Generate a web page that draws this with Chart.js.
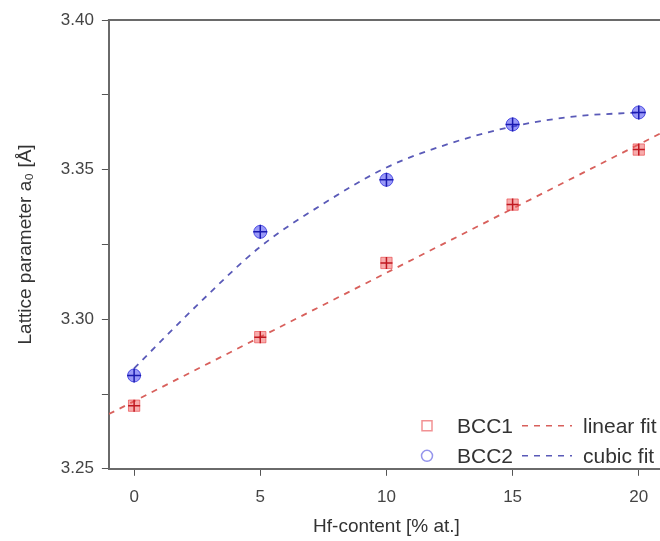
<!DOCTYPE html>
<html>
<head>
<meta charset="utf-8">
<script src="https://cdn.jsdelivr.net/npm/chart.js@4"></script>
<style>
  html, body { margin: 0; padding: 0; background: #fff; overflow: hidden; }
  #wrap { position: absolute; left: 0; top: 0; width: 680px; height: 541px; }
</style>
</head>
<body>
<div id="wrap"><canvas id="c" width="680" height="541"></canvas></div>
<script>
// ---- data ----
const hfContent = [0, 5, 10, 15, 20];
const bcc1 = [3.2711, 3.2940, 3.3188, 3.3383, 3.3567];
const bcc2 = [3.2812, 3.3292, 3.3466, 3.3651, 3.3691];
const linearFitX = [-1, 21];
const linearFitY = [3.2683, 3.3627];
const cubicFitX = [0, 2.5, 5, 7.5, 10, 12.5, 15, 17.5, 20];
const cubicFitY = [3.2836, 3.3047, 3.3242, 3.3386, 3.3507, 3.3587, 3.3644, 3.3678, 3.3691];
const xTicks = [0, 5, 10, 15, 20];
const yTicks = [3.25, 3.275, 3.30, 3.325, 3.35, 3.375, 3.40];
const legendRows = [
  { series: 'BCC1', fit: 'linear fit' },
  { series: 'BCC2', fit: 'cubic fit' }
];

const toXY = (xs, ys) => xs.map((x, i) => ({ x: x, y: ys[i] }));

const FONT = "'Liberation Sans', Arial, sans-serif";

const topBorder = {
  id: 'topBorder',
  afterDraw(chart) {
    const { ctx, chartArea } = chart;
    ctx.save();
    ctx.strokeStyle = '#6a6a6a';
    ctx.lineWidth = 2;
    ctx.beginPath();
    ctx.moveTo(chartArea.left - 1, chartArea.top);
    ctx.lineTo(chartArea.right, chartArea.top);
    ctx.stroke();
    ctx.restore();
  }
};

const customLegend = {
  id: 'customLegend',
  afterDraw(chart) {
    const { ctx, chartArea } = chart;
    const baseX = chartArea.right - 237;
    const rowsY = [chartArea.bottom - 43, chartArea.bottom - 13];
    ctx.save();
    ctx.font = '21px ' + FONT;
    ctx.textBaseline = 'middle';
    legendRows.forEach((row, i) => {
      const y = rowsY[i];
      // marker
      ctx.strokeStyle = i === 0 ? 'rgba(232,56,60,0.55)' : 'rgba(60,60,220,0.55)';
      ctx.lineWidth = 1.5;
      ctx.beginPath();
      if (i === 0) ctx.rect(baseX - 5, y - 5, 10, 10);
      else ctx.arc(baseX, y, 5.5, 0, Math.PI * 2);
      ctx.stroke();
      // series label
      ctx.fillStyle = '#333';
      ctx.textAlign = 'left';
      ctx.fillText(row.series, baseX + 30, y + 1);
      // dashed sample
      ctx.strokeStyle = i === 0 ? '#d8605c' : '#5a5ab8';
      ctx.lineWidth = 1.6;
      ctx.setLineDash([6, 6]);
      ctx.beginPath();
      ctx.moveTo(baseX + 95, y);
      ctx.lineTo(baseX + 145, y);
      ctx.stroke();
      ctx.setLineDash([]);
      ctx.fillStyle = '#333';
      ctx.fillText(row.fit, baseX + 156, y + 1);
    });
    ctx.restore();
  }
};

new Chart(document.getElementById('c'), {
  type: 'scatter',
  data: {
    datasets: [
      {
        label: 'linear fit',
        data: toXY(linearFitX, linearFitY),
        showLine: true,
        borderColor: '#d8605c',
        borderWidth: 1.8,
        borderDash: [6, 6],
        pointRadius: 0,
        order: 5
      },
      {
        label: 'cubic fit',
        data: toXY(cubicFitX, cubicFitY),
        showLine: true,
        cubicInterpolationMode: 'monotone',
        borderColor: '#5a5ab8',
        borderWidth: 1.8,
        borderDash: [6, 6],
        pointRadius: 0,
        order: 5
      },
      {
        label: 'BCC1',
        data: toXY(hfContent, bcc1),
        pointStyle: 'rect',
        pointRadius: 8,
        backgroundColor: 'rgba(240,90,90,0.5)',
        borderColor: 'rgba(232,56,60,0.6)',
        borderWidth: 1,
        order: 2
      },
      {
        label: 'BCC1 err',
        data: toXY(hfContent, bcc1),
        pointStyle: 'cross',
        pointRadius: 6,
        borderColor: '#c01820',
        borderWidth: 1.5,
        order: 1
      },
      {
        label: 'BCC2',
        data: toXY(hfContent, bcc2),
        pointStyle: 'circle',
        pointRadius: 6.5,
        backgroundColor: 'rgba(70,70,240,0.55)',
        borderColor: 'rgba(40,40,220,0.75)',
        borderWidth: 1,
        order: 2
      },
      {
        label: 'BCC2 err',
        data: toXY(hfContent, bcc2),
        pointStyle: 'cross',
        pointRadius: 7,
        borderColor: '#1a1ab0',
        borderWidth: 1.5,
        order: 1
      }
    ]
  },
  options: {
    responsive: false,
    animation: false,
    layout: { padding: { top: 20, right: 16, left: 14, bottom: 3 } },
    plugins: {
      legend: { display: false },
      tooltip: { enabled: false }
    },
    scales: {
      x: {
        type: 'linear',
        min: -1,
        max: 21,
        afterBuildTicks: (axis) => { axis.ticks = xTicks.map(v => ({ value: v })); },
        border: { display: true, color: '#6a6a6a', width: 2 },
        grid: { drawOnChartArea: false, drawTicks: true, tickLength: 7, color: '#555', tickColor: '#555' },
        ticks: { font: { family: FONT, size: 17 }, color: '#444', padding: 11, maxRotation: 0 },
        title: { display: true, text: 'Hf-content [% at.]', font: { family: FONT, size: 19 }, color: '#333', padding: { top: -3, bottom: 0 } }
      },
      y: {
        type: 'linear',
        min: 3.25,
        max: 3.40,
        afterBuildTicks: (axis) => { axis.ticks = yTicks.map(v => ({ value: v })); },
        border: { display: true, color: '#6a6a6a', width: 2 },
        grid: { drawOnChartArea: false, drawTicks: true, tickLength: 7, tickColor: '#555' },
        ticks: {
          font: { family: FONT, size: 17 },
          color: '#444',
          padding: 8,
          callback: (v) => (Math.round(v * 1000) % 50 === 0 ? v.toFixed(2) : '')
        },
        title: { display: true, text: 'Lattice parameter a\u2080 [Å]', font: { family: FONT, size: 19 }, color: '#333', padding: { top: 0, bottom: 16 } }
      }
    }
  },
  plugins: [topBorder, customLegend]
});
</script>
</body>
</html>
